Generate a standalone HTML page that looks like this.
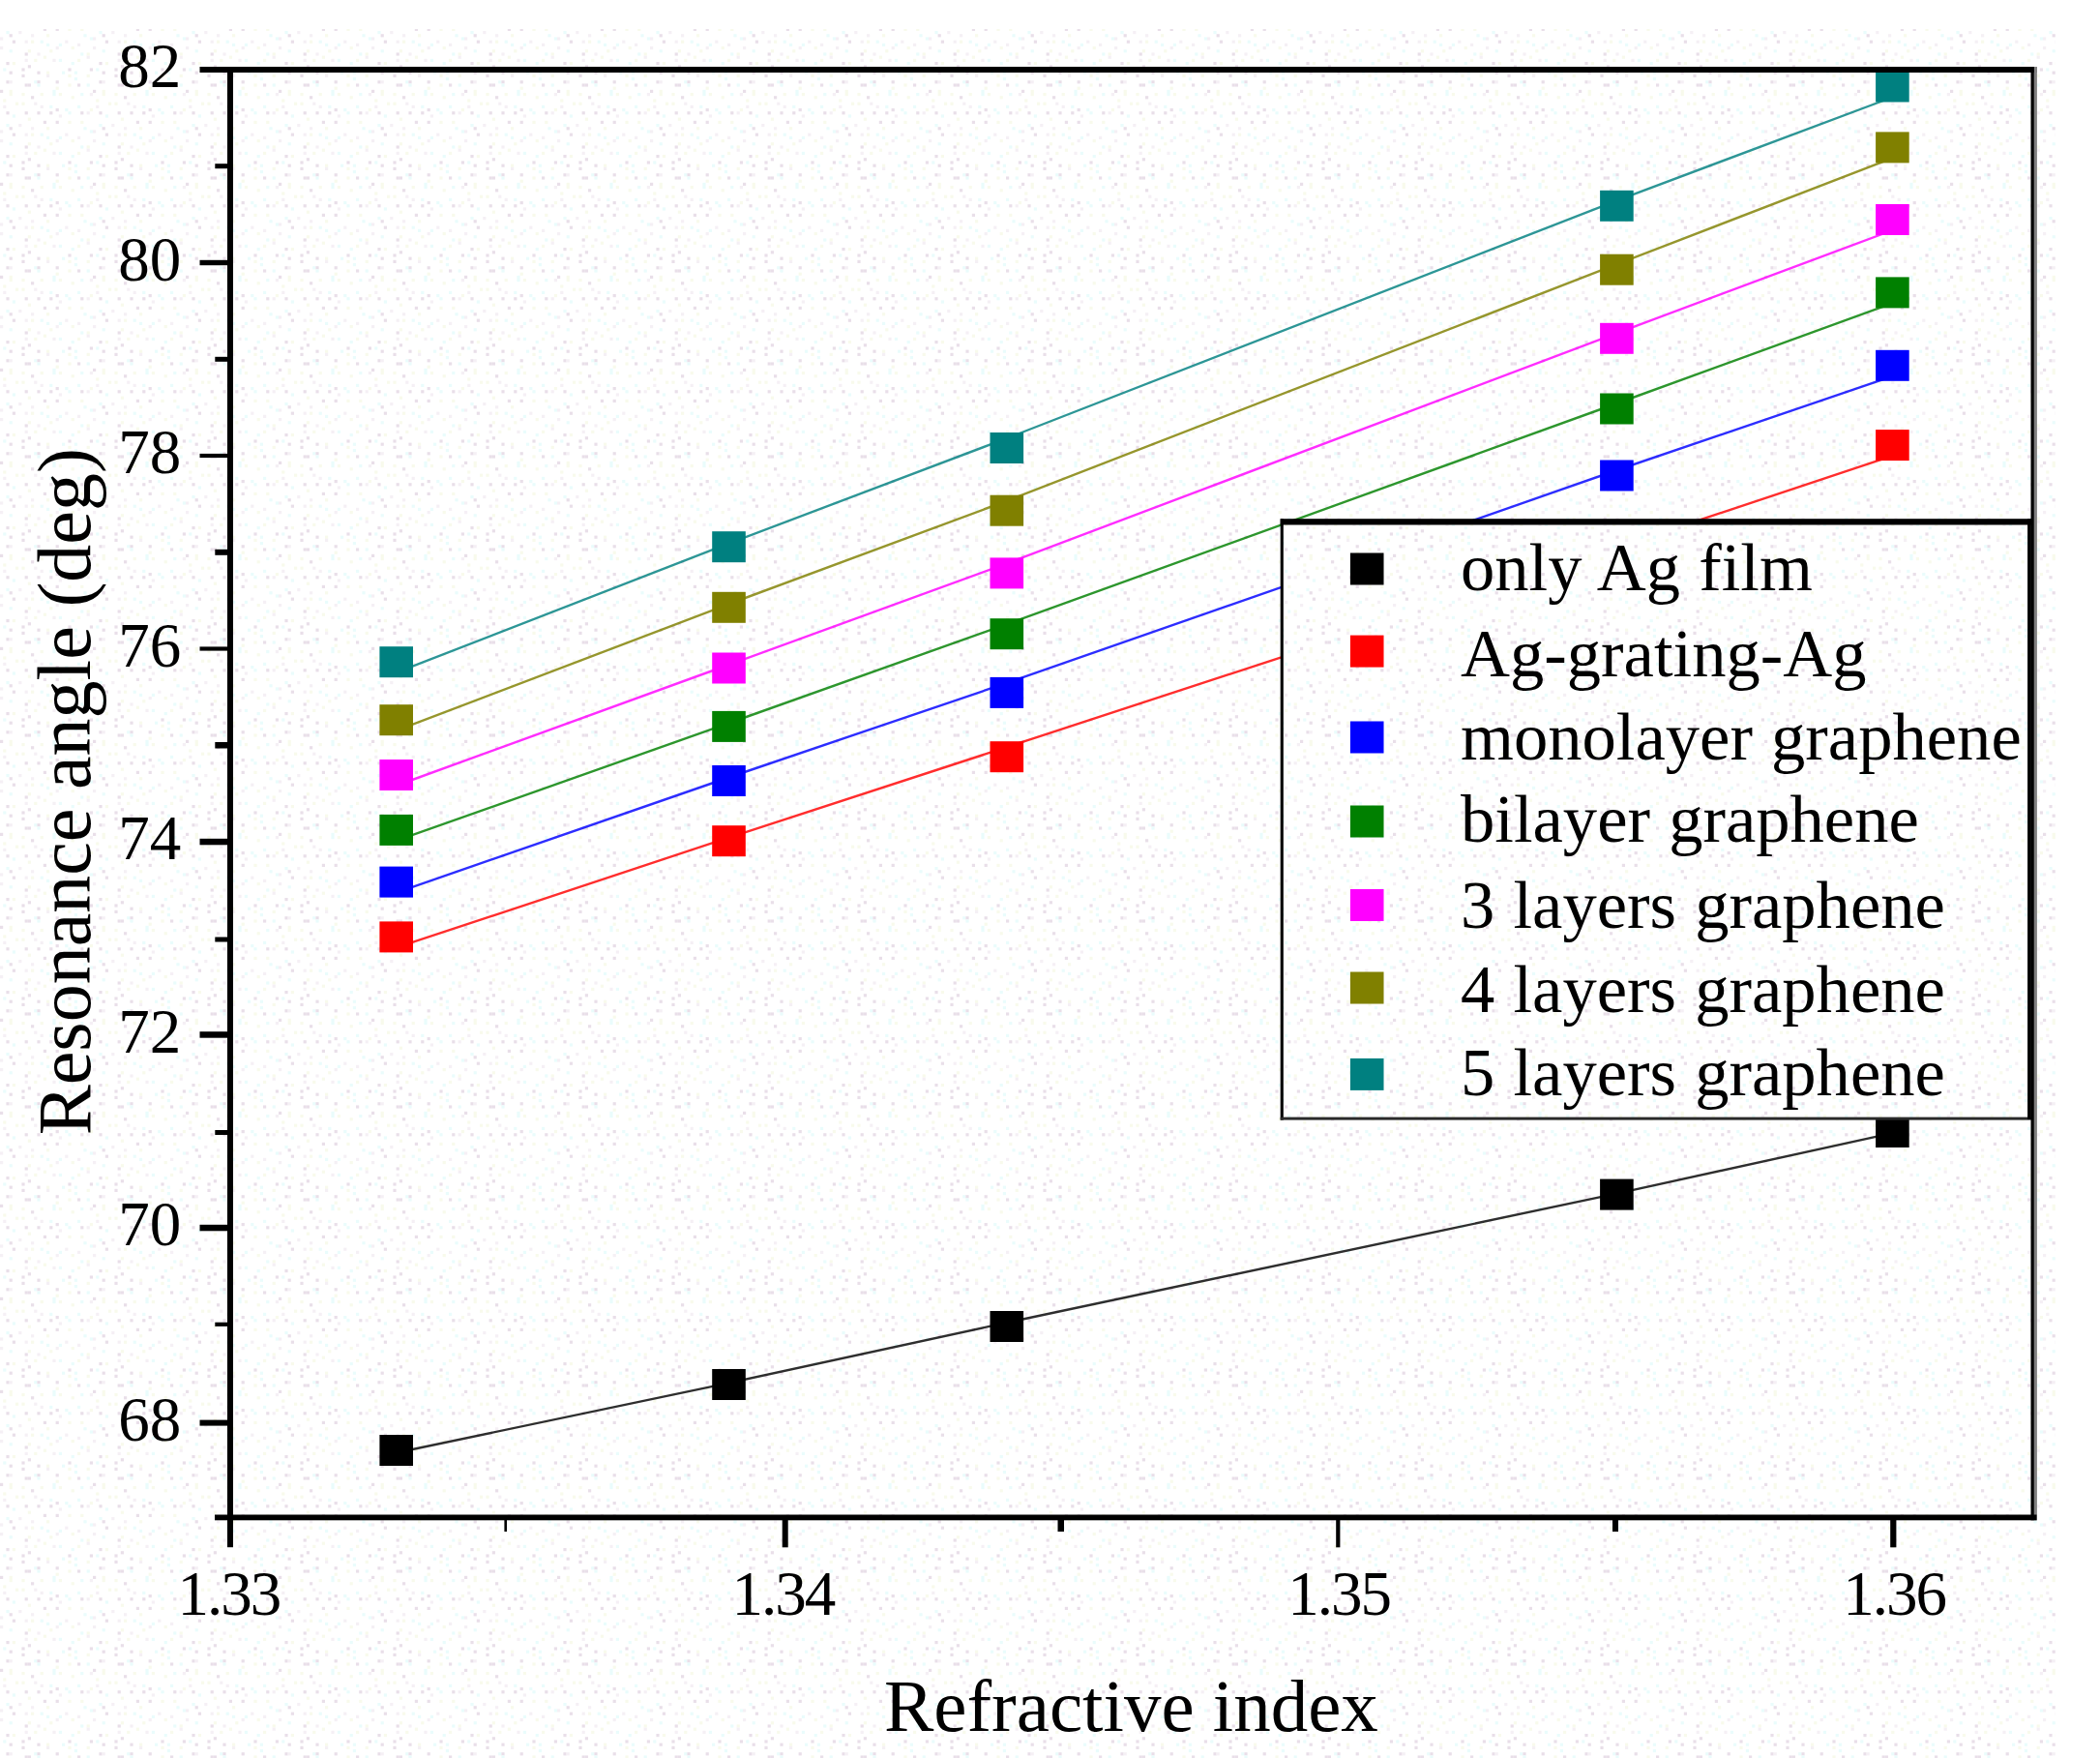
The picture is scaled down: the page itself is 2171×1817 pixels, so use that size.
<!DOCTYPE html>
<html lang="en"><head><meta charset="utf-8">
<title>Resonance angle vs refractive index</title>
<style>
html,body{margin:0;padding:0;background:#ffffff;}
body{width:2171px;height:1817px;overflow:hidden;}
svg{display:block;}
text{font-family:"Liberation Serif", "Times New Roman", serif;fill:#000;}
.tick{font-size:65px;}
.leg{font-size:70.6px;word-spacing:1.5px;}
.ttl{font-size:77.5px;}
.xt{letter-spacing:-2px;}
</style></head><body>
<svg width="2171" height="1817" viewBox="0 0 2171 1817">
<rect x="0" y="0" width="2171" height="1817" fill="#ffffff"/>
<defs><pattern id="dz" patternUnits="userSpaceOnUse" x="0" y="0" width="96.0" height="96.0">
<rect x="3.2" y="6.4" width="3.2" height="3.2" fill="#f8faec"/>
<rect x="3.2" y="12.8" width="3.2" height="3.2" fill="#f5f0f5"/>
<rect x="6.4" y="19.2" width="3.2" height="3.2" fill="#e9dfe9"/>
<rect x="6.4" y="32.0" width="3.2" height="3.2" fill="#eafcfc"/>
<rect x="0.0" y="38.4" width="3.2" height="3.2" fill="#f5f0f5"/>
<rect x="0.0" y="48.0" width="3.2" height="3.2" fill="#f5f0f5"/>
<rect x="6.4" y="64.0" width="3.2" height="3.2" fill="#e9dfe9"/>
<rect x="3.2" y="70.4" width="3.2" height="3.2" fill="#eafcfc"/>
<rect x="6.4" y="83.2" width="3.2" height="3.2" fill="#e9dfe9"/>
<rect x="0.0" y="92.8" width="3.2" height="3.2" fill="#e9dfe9"/>
<rect x="9.6" y="0.0" width="3.2" height="3.2" fill="#f8faec"/>
<rect x="16.0" y="9.6" width="3.2" height="3.2" fill="#f8faec"/>
<rect x="12.8" y="22.4" width="3.2" height="3.2" fill="#eafcfc"/>
<rect x="9.6" y="35.2" width="3.2" height="3.2" fill="#e9dfe9"/>
<rect x="12.8" y="41.6" width="3.2" height="3.2" fill="#e9dfe9"/>
<rect x="9.6" y="51.2" width="3.2" height="3.2" fill="#eafcfc"/>
<rect x="12.8" y="64.0" width="3.2" height="3.2" fill="#f8faec"/>
<rect x="9.6" y="73.6" width="3.2" height="3.2" fill="#e9dfe9"/>
<rect x="9.6" y="83.2" width="3.2" height="3.2" fill="#f5f0f5"/>
<rect x="9.6" y="92.8" width="3.2" height="3.2" fill="#f8faec"/>
<rect x="22.4" y="0.0" width="3.2" height="3.2" fill="#f8faec"/>
<rect x="22.4" y="9.6" width="3.2" height="3.2" fill="#f8faec"/>
<rect x="25.6" y="19.2" width="3.2" height="3.2" fill="#e9dfe9"/>
<rect x="19.2" y="32.0" width="3.2" height="3.2" fill="#f5f0f5"/>
<rect x="25.6" y="41.6" width="3.2" height="3.2" fill="#f5f0f5"/>
<rect x="25.6" y="54.4" width="3.2" height="3.2" fill="#e9dfe9"/>
<rect x="25.6" y="60.8" width="3.2" height="3.2" fill="#f5f0f5"/>
<rect x="22.4" y="70.4" width="3.2" height="3.2" fill="#e9dfe9"/>
<rect x="22.4" y="76.8" width="3.2" height="3.2" fill="#e9dfe9"/>
<rect x="25.6" y="86.4" width="3.2" height="3.2" fill="#e9dfe9"/>
<rect x="32.0" y="3.2" width="3.2" height="3.2" fill="#e9dfe9"/>
<rect x="35.2" y="9.6" width="3.2" height="3.2" fill="#f5f0f5"/>
<rect x="28.8" y="25.6" width="3.2" height="3.2" fill="#f8faec"/>
<rect x="32.0" y="35.2" width="3.2" height="3.2" fill="#f5f0f5"/>
<rect x="32.0" y="41.6" width="3.2" height="3.2" fill="#f8faec"/>
<rect x="28.8" y="51.2" width="3.2" height="3.2" fill="#f8faec"/>
<rect x="35.2" y="60.8" width="3.2" height="3.2" fill="#f8faec"/>
<rect x="28.8" y="67.2" width="3.2" height="3.2" fill="#e9dfe9"/>
<rect x="35.2" y="83.2" width="3.2" height="3.2" fill="#eafcfc"/>
<rect x="28.8" y="86.4" width="3.2" height="3.2" fill="#e9dfe9"/>
<rect x="41.6" y="0.0" width="3.2" height="3.2" fill="#f8faec"/>
<rect x="41.6" y="12.8" width="3.2" height="3.2" fill="#f5f0f5"/>
<rect x="38.4" y="19.2" width="3.2" height="3.2" fill="#e9dfe9"/>
<rect x="44.8" y="28.8" width="3.2" height="3.2" fill="#e9dfe9"/>
<rect x="41.6" y="41.6" width="3.2" height="3.2" fill="#eafcfc"/>
<rect x="38.4" y="54.4" width="3.2" height="3.2" fill="#f5f0f5"/>
<rect x="44.8" y="57.6" width="3.2" height="3.2" fill="#f8faec"/>
<rect x="38.4" y="73.6" width="3.2" height="3.2" fill="#e9dfe9"/>
<rect x="38.4" y="83.2" width="3.2" height="3.2" fill="#e9dfe9"/>
<rect x="38.4" y="86.4" width="3.2" height="3.2" fill="#eafcfc"/>
<rect x="54.4" y="0.0" width="3.2" height="3.2" fill="#eafcfc"/>
<rect x="51.2" y="12.8" width="3.2" height="3.2" fill="#eafcfc"/>
<rect x="51.2" y="19.2" width="3.2" height="3.2" fill="#e9dfe9"/>
<rect x="48.0" y="35.2" width="3.2" height="3.2" fill="#f8faec"/>
<rect x="48.0" y="44.8" width="3.2" height="3.2" fill="#eafcfc"/>
<rect x="51.2" y="51.2" width="3.2" height="3.2" fill="#f8faec"/>
<rect x="54.4" y="60.8" width="3.2" height="3.2" fill="#f5f0f5"/>
<rect x="48.0" y="73.6" width="3.2" height="3.2" fill="#f8faec"/>
<rect x="48.0" y="76.8" width="3.2" height="3.2" fill="#f5f0f5"/>
<rect x="54.4" y="92.8" width="3.2" height="3.2" fill="#eafcfc"/>
<rect x="60.8" y="0.0" width="3.2" height="3.2" fill="#f8faec"/>
<rect x="57.6" y="16.0" width="3.2" height="3.2" fill="#e9dfe9"/>
<rect x="60.8" y="22.4" width="3.2" height="3.2" fill="#f5f0f5"/>
<rect x="57.6" y="28.8" width="3.2" height="3.2" fill="#e9dfe9"/>
<rect x="60.8" y="44.8" width="3.2" height="3.2" fill="#eafcfc"/>
<rect x="57.6" y="48.0" width="3.2" height="3.2" fill="#f5f0f5"/>
<rect x="60.8" y="60.8" width="3.2" height="3.2" fill="#eafcfc"/>
<rect x="64.0" y="73.6" width="3.2" height="3.2" fill="#eafcfc"/>
<rect x="57.6" y="83.2" width="3.2" height="3.2" fill="#e9dfe9"/>
<rect x="57.6" y="89.6" width="3.2" height="3.2" fill="#f8faec"/>
<rect x="73.6" y="3.2" width="3.2" height="3.2" fill="#f8faec"/>
<rect x="67.2" y="16.0" width="3.2" height="3.2" fill="#eafcfc"/>
<rect x="70.4" y="19.2" width="3.2" height="3.2" fill="#eafcfc"/>
<rect x="70.4" y="28.8" width="3.2" height="3.2" fill="#f8faec"/>
<rect x="67.2" y="41.6" width="3.2" height="3.2" fill="#f5f0f5"/>
<rect x="73.6" y="48.0" width="3.2" height="3.2" fill="#f8faec"/>
<rect x="73.6" y="64.0" width="3.2" height="3.2" fill="#eafcfc"/>
<rect x="70.4" y="70.4" width="3.2" height="3.2" fill="#e9dfe9"/>
<rect x="70.4" y="76.8" width="3.2" height="3.2" fill="#f8faec"/>
<rect x="70.4" y="86.4" width="3.2" height="3.2" fill="#f8faec"/>
<rect x="83.2" y="0.0" width="3.2" height="3.2" fill="#eafcfc"/>
<rect x="80.0" y="12.8" width="3.2" height="3.2" fill="#eafcfc"/>
<rect x="83.2" y="19.2" width="3.2" height="3.2" fill="#e9dfe9"/>
<rect x="83.2" y="28.8" width="3.2" height="3.2" fill="#f8faec"/>
<rect x="80.0" y="44.8" width="3.2" height="3.2" fill="#f5f0f5"/>
<rect x="83.2" y="54.4" width="3.2" height="3.2" fill="#eafcfc"/>
<rect x="80.0" y="60.8" width="3.2" height="3.2" fill="#f8faec"/>
<rect x="76.8" y="73.6" width="3.2" height="3.2" fill="#eafcfc"/>
<rect x="76.8" y="80.0" width="3.2" height="3.2" fill="#eafcfc"/>
<rect x="80.0" y="86.4" width="3.2" height="3.2" fill="#e9dfe9"/>
<rect x="92.8" y="0.0" width="3.2" height="3.2" fill="#f5f0f5"/>
<rect x="92.8" y="16.0" width="3.2" height="3.2" fill="#f8faec"/>
<rect x="89.6" y="19.2" width="3.2" height="3.2" fill="#f5f0f5"/>
<rect x="86.4" y="35.2" width="3.2" height="3.2" fill="#eafcfc"/>
<rect x="92.8" y="38.4" width="3.2" height="3.2" fill="#eafcfc"/>
<rect x="89.6" y="54.4" width="3.2" height="3.2" fill="#f8faec"/>
<rect x="89.6" y="57.6" width="3.2" height="3.2" fill="#f5f0f5"/>
<rect x="92.8" y="70.4" width="3.2" height="3.2" fill="#e9dfe9"/>
<rect x="89.6" y="76.8" width="3.2" height="3.2" fill="#f8faec"/>
<rect x="89.6" y="86.4" width="3.2" height="3.2" fill="#eafcfc"/>
</pattern></defs>
<rect x="0" y="30" width="2125" height="1787" fill="url(#dz)"/>
<g fill="none" stroke-width="2.4" stroke-linecap="butt" opacity="0.82">
<polyline points="409.7,1501.5 753.5,1429.3 1040.8,1367.0 1671.4,1233.6 1956.4,1171.2" stroke="#000000"/>
<polyline points="409.7,979.4 753.5,865.7 1040.8,772.2 1671.4,566.0 1956.4,471.1" stroke="#ff0000"/>
<polyline points="409.7,922.6 753.5,803.5 1040.8,705.9 1671.4,486.0 1956.4,388.8" stroke="#0000ff"/>
<polyline points="409.7,868.9 753.5,747.4 1040.8,645.2 1671.4,417.0 1956.4,313.4" stroke="#008000"/>
<polyline points="409.7,812.0 753.5,687.0 1040.8,582.4 1671.4,344.3 1956.4,238.0" stroke="#ff00ff"/>
<polyline points="409.7,755.2 753.5,624.3 1040.8,517.7 1671.4,273.2 1956.4,163.4" stroke="#808000"/>
<polyline points="409.7,695.2 753.5,561.7 1040.8,453.0 1671.4,207.3 1956.4,100.5" stroke="#008080"/>
</g>
<g>
<rect x="392.4" y="1483.0" width="34.6" height="32.0" fill="#000000"/>
<rect x="736.2" y="1415.0" width="34.6" height="32.0" fill="#000000"/>
<rect x="1023.5" y="1355.0" width="34.6" height="32.0" fill="#000000"/>
<rect x="1654.1" y="1218.6" width="34.6" height="32.0" fill="#000000"/>
<rect x="1939.1" y="1154.0" width="34.6" height="32.0" fill="#000000"/>
<rect x="392.4" y="952.4" width="34.6" height="32.0" fill="#ff0000"/>
<rect x="736.2" y="853.2" width="34.6" height="32.0" fill="#ff0000"/>
<rect x="1023.5" y="766.2" width="34.6" height="32.0" fill="#ff0000"/>
<rect x="1654.1" y="555.5" width="34.6" height="32.0" fill="#ff0000"/>
<rect x="1939.1" y="444.1" width="34.6" height="32.0" fill="#ff0000"/>
<rect x="392.4" y="895.6" width="34.6" height="32.0" fill="#0000ff"/>
<rect x="736.2" y="791.0" width="34.6" height="32.0" fill="#0000ff"/>
<rect x="1023.5" y="699.9" width="34.6" height="32.0" fill="#0000ff"/>
<rect x="1654.1" y="475.5" width="34.6" height="32.0" fill="#0000ff"/>
<rect x="1939.1" y="361.8" width="34.6" height="32.0" fill="#0000ff"/>
<rect x="392.4" y="841.9" width="34.6" height="32.0" fill="#008000"/>
<rect x="736.2" y="734.9" width="34.6" height="32.0" fill="#008000"/>
<rect x="1023.5" y="639.2" width="34.6" height="32.0" fill="#008000"/>
<rect x="1654.1" y="406.5" width="34.6" height="32.0" fill="#008000"/>
<rect x="1939.1" y="286.4" width="34.6" height="32.0" fill="#008000"/>
<rect x="392.4" y="785.0" width="34.6" height="32.0" fill="#ff00ff"/>
<rect x="736.2" y="674.5" width="34.6" height="32.0" fill="#ff00ff"/>
<rect x="1023.5" y="576.4" width="34.6" height="32.0" fill="#ff00ff"/>
<rect x="1654.1" y="333.8" width="34.6" height="32.0" fill="#ff00ff"/>
<rect x="1939.1" y="211.0" width="34.6" height="32.0" fill="#ff00ff"/>
<rect x="392.4" y="728.2" width="34.6" height="32.0" fill="#808000"/>
<rect x="736.2" y="611.8" width="34.6" height="32.0" fill="#808000"/>
<rect x="1023.5" y="511.7" width="34.6" height="32.0" fill="#808000"/>
<rect x="1654.1" y="262.7" width="34.6" height="32.0" fill="#808000"/>
<rect x="1939.1" y="136.4" width="34.6" height="32.0" fill="#808000"/>
<rect x="392.4" y="668.2" width="34.6" height="32.0" fill="#008080"/>
<rect x="736.2" y="549.2" width="34.6" height="32.0" fill="#008080"/>
<rect x="1023.5" y="447.0" width="34.6" height="32.0" fill="#008080"/>
<rect x="1654.1" y="196.8" width="34.6" height="32.0" fill="#008080"/>
<rect x="1939.1" y="73.5" width="34.6" height="32.0" fill="#008080"/>
</g>
<rect x="1325.2" y="539.3" width="773.0" height="616.0" fill="#ffffff"/>
<rect x="1325.2" y="539.3" width="773.0" height="616.0" fill="url(#dz)"/>
<g fill="#000">
<rect x="1323.7" y="536.2" width="776.3" height="6.3"/>
<rect x="1323.7" y="536.2" width="3.1" height="621.4"/>
<rect x="1323.7" y="1154.6" width="776.3" height="3" fill="#2a2a2a"/>
<rect x="2096.1" y="536.2" width="3.8" height="620.8"/>
</g>
<rect x="1395.9" y="571.5" width="34.6" height="33.0" fill="#000000"/>
<text class="leg" x="1510" y="610.4">only Ag film</text>
<rect x="1395.9" y="656.6" width="34.6" height="33.0" fill="#ff0000"/>
<text class="leg" x="1510" y="699.2">Ag-grating-Ag</text>
<rect x="1395.9" y="745.5" width="34.6" height="33.0" fill="#0000ff"/>
<text class="leg" x="1510" y="785.0">monolayer graphene</text>
<rect x="1395.9" y="832.5" width="34.6" height="33.0" fill="#008000"/>
<text class="leg" x="1510" y="870.3">bilayer graphene</text>
<rect x="1395.9" y="919.0" width="34.6" height="33.0" fill="#ff00ff"/>
<text class="leg" x="1510" y="958.5">3 layers graphene</text>
<rect x="1395.9" y="1004.5" width="34.6" height="33.0" fill="#808000"/>
<text class="leg" x="1510" y="1046.3">4 layers graphene</text>
<rect x="1395.9" y="1093.9" width="34.6" height="33.0" fill="#008080"/>
<text class="leg" x="1510" y="1132.1">5 layers graphene</text>
<g fill="#000">
<rect x="206.5" y="69" width="1899.0" height="6"/>
<rect x="235" y="69" width="6" height="1530.2"/>
<rect x="2099.5" y="69" width="3.4" height="1502.3"/>
<rect x="2102.9" y="69" width="3" height="1502.3" fill="#808080"/>
<rect x="222" y="1565.5" width="1883.5" height="5.8"/>
<rect x="206.5" y="268.8" width="30" height="5.4"/>
<rect x="206.5" y="468.9" width="30" height="4.2"/>
<rect x="206.5" y="668.4" width="30" height="4.2"/>
<rect x="206.5" y="866.8" width="30" height="6.5"/>
<rect x="206.5" y="1066.2" width="30" height="6.5"/>
<rect x="206.5" y="1265.8" width="30" height="6.5"/>
<rect x="206.5" y="1467.6" width="30" height="6.0"/>
<rect x="222.3" y="169.2" width="14" height="5.0"/>
<rect x="222.3" y="368.8" width="14" height="5.0"/>
<rect x="222.3" y="567.8" width="14" height="6.0"/>
<rect x="222.3" y="767.0" width="14" height="6.5"/>
<rect x="222.3" y="968.5" width="14" height="5.0"/>
<rect x="222.3" y="1168.0" width="14" height="5.0"/>
<rect x="222.3" y="1366.7" width="14" height="4.2"/>
<rect x="808.7" y="1570" width="6.0" height="29.3"/>
<rect x="1381.2" y="1570" width="4.2" height="29.3"/>
<rect x="1954.2" y="1570" width="6.2" height="29.3"/>
<rect x="521.4" y="1570" width="2.6" height="13"/>
<rect x="1093.5" y="1570" width="6.5" height="13"/>
<rect x="1667.0" y="1570" width="6.0" height="13"/>
</g>
<g class="tick" text-anchor="end">
<text x="187.3" y="89.5">82</text>
<text x="187.3" y="289.8">80</text>
<text x="187.3" y="489.3">78</text>
<text x="187.3" y="688.8">76</text>
<text x="187.3" y="888.3">74</text>
<text x="187.3" y="1087.8">72</text>
<text x="187.3" y="1287.3">70</text>
<text x="187.3" y="1488.8">68</text>
</g>
<g class="tick xt" text-anchor="middle">
<text x="236.4" y="1669">1.33</text>
<text x="809.4" y="1669">1.34</text>
<text x="1384.2" y="1669">1.35</text>
<text x="1958.0" y="1669">1.36</text>
</g>
<text class="ttl" style="font-size:77px" text-anchor="middle" x="1169.4" y="1788.7">Refractive index</text>
<text class="ttl" style="font-size:78px" text-anchor="middle" transform="translate(93.4 818.2) rotate(-90)">Resonance angle (deg)</text>
</svg>
</body></html>
